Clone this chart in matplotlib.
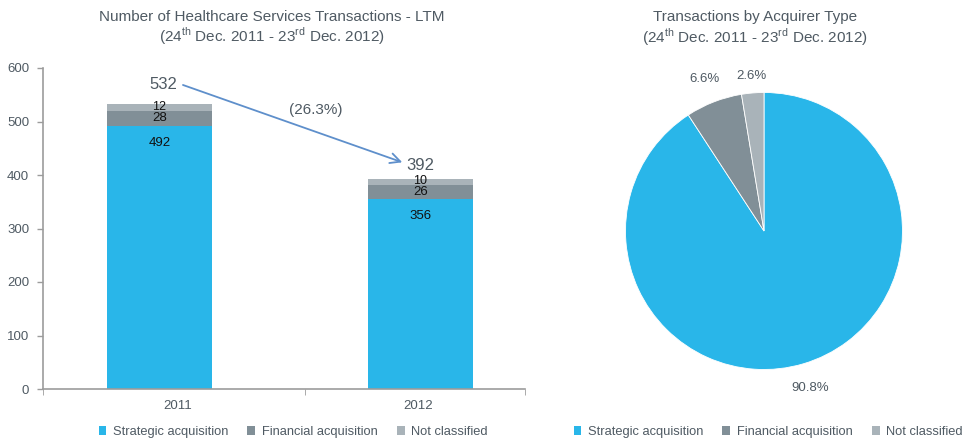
import matplotlib
matplotlib.use("Agg")
import matplotlib.pyplot as plt
import numpy as np

plt.rcParams['font.family'] = ['Liberation Sans', 'DejaVu Sans']
plt.rcParams['mathtext.fontset'] = 'custom'
plt.rcParams['mathtext.rm'] = 'Liberation Sans'

# ---- data ----
years = ["2011", "2012"]
strategic = [492, 356]
financial = [28, 26]
not_classified = [12, 10]
totals = [532, 392]
change_label = "(26.3%)"

pie_labels = ["Strategic acquisition", "Financial acquisition", "Not classified"]
pie_values = [90.8, 6.6, 2.6]
pie_texts = ["90.8%", "6.6%", "2.6%"]

title_left = "Number of Healthcare Services Transactions - LTM"
title_right = "Transactions by Acquirer Type"
subtitle = r"(24$^{\rm th}$ Dec. 2011 - 23$^{\rm rd}$ Dec. 2012)"

# ---- style ----
C_BLUE = "#29B6E9"
C_FIN = "#818F97"
C_NC = "#A9B3B9"
C_TXT = "#4F5A63"
C_AX = "#9C9C9C"
colors = [C_BLUE, C_FIN, C_NC]

W, H = 966, 443
fig = plt.figure(figsize=(W / 100, H / 100), dpi=100)

# ---- left bar chart ----
ax = fig.add_axes([43 / W, 1 - 389 / H, (525 - 43) / W, (389 - 68) / H])
x = np.arange(len(years))
bw = 0.40
ax.bar(x, strategic, bw, color=C_BLUE)
ax.bar(x, financial, bw, bottom=strategic, color=C_FIN)
bot3 = np.array(strategic) + np.array(financial)
ax.bar(x, not_classified, bw, bottom=bot3, color=C_NC)

ax.set_xlim(-0.446, 1.40)
ax.set_ylim(0, 600)
ax.set_yticks(range(0, 601, 100))
ax.tick_params(axis='y', colors=C_AX, labelcolor=C_TXT, labelsize=9.5, length=4, width=1, direction='out', pad=6)
ax.set_xticks([0.07, 0.99])
ax.set_xticklabels(years)
ax.tick_params(axis='x', length=0, labelcolor=C_TXT, labelsize=9.5, pad=8)
ax.set_xticks([-0.446, 0.557, 1.40], minor=True)
ax.tick_params(axis='x', which='minor', length=4, colors=C_AX, direction='out')
for s in ['top', 'right']:
    ax.spines[s].set_visible(False)
for s in ['left', 'bottom']:
    ax.spines[s].set_color(C_AX)
    ax.spines[s].set_linewidth(1.2)

for i in range(len(years)):
    ax.text(x[i], strategic[i] - 33, str(strategic[i]), ha='center', va='center', fontsize=9.5, color='#111111')
    ax.text(x[i], strategic[i] + financial[i] / 2, str(financial[i]), ha='center', va='center', fontsize=9.5, color='#111111')
    ax.text(x[i], bot3[i] + not_classified[i] / 2 + 1, str(not_classified[i]), ha='center', va='center', fontsize=9, color='#111111')

ax.text(x[0] + 0.015, totals[0] + 38, str(totals[0]), ha='center', va='center', fontsize=12, color=C_TXT)
ax.text(x[1] + 0.0, totals[1] + 25, str(totals[1]), ha='center', va='center', fontsize=12, color=C_TXT)
ax.annotate("", xy=(x[1] - 0.06, totals[1] + 30), xytext=(x[0] + 0.08, totals[0] + 38),
            arrowprops=dict(arrowstyle='->', color='#5E8FCB', lw=1.3, mutation_scale=18))
ax.text(0.6, 521, change_label, ha='center', va='center', fontsize=11, color=C_TXT)

fig.text(272 / W, 1 - 17 / H, title_left, ha='center', va='center', fontsize=11, color=C_TXT)
fig.text(272 / W, 1 - 36 / H, subtitle, ha='center', va='center', fontsize=11, color=C_TXT)

# ---- right pie chart ----
R = 138.5
lim = 1.3
side = 2 * lim * R
pax = fig.add_axes([(764 - side / 2) / W, (H - 231 - side / 2) / H, side / W, side / H])
pax.pie(pie_values, colors=colors, startangle=90, counterclock=False,
        wedgeprops=dict(linewidth=0.6, edgecolor='white'))
pax.set_xlim(-lim, lim)
pax.set_ylim(-lim, lim)
pax.set_aspect('equal')
pax.axis('off')
cum = 0
dists = [1.18, 1.18, 1.12]
for v, t, d in zip(pie_values, pie_texts, dists):
    mid = np.deg2rad(90 - (cum + v / 2) / 100 * 360)
    cum += v
    pax.text(d * np.cos(mid), d * np.sin(mid), t, ha='center', va='center', fontsize=9.5, color=C_TXT)

fig.text(755 / W, 1 - 17 / H, title_right, ha='center', va='center', fontsize=11, color=C_TXT)
fig.text(755 / W, 1 - 37 / H, subtitle, ha='center', va='center', fontsize=11, color=C_TXT)

# ---- legends ----
from matplotlib.patches import Patch
handles = [Patch(facecolor=c, edgecolor='none') for c in colors]
for cx in [293 / W, 768 / W]:
    fig.legend(handles, pie_labels, loc='center', bbox_to_anchor=(cx, 1 - 432 / H), ncol=3,
               frameon=False, fontsize=9.3, labelcolor=C_TXT, handlelength=0.6, handleheight=0.6,
               handletextpad=0.5, columnspacing=1.5, borderaxespad=0, borderpad=0)

fig.savefig("out.png", dpi=100, facecolor='white')
